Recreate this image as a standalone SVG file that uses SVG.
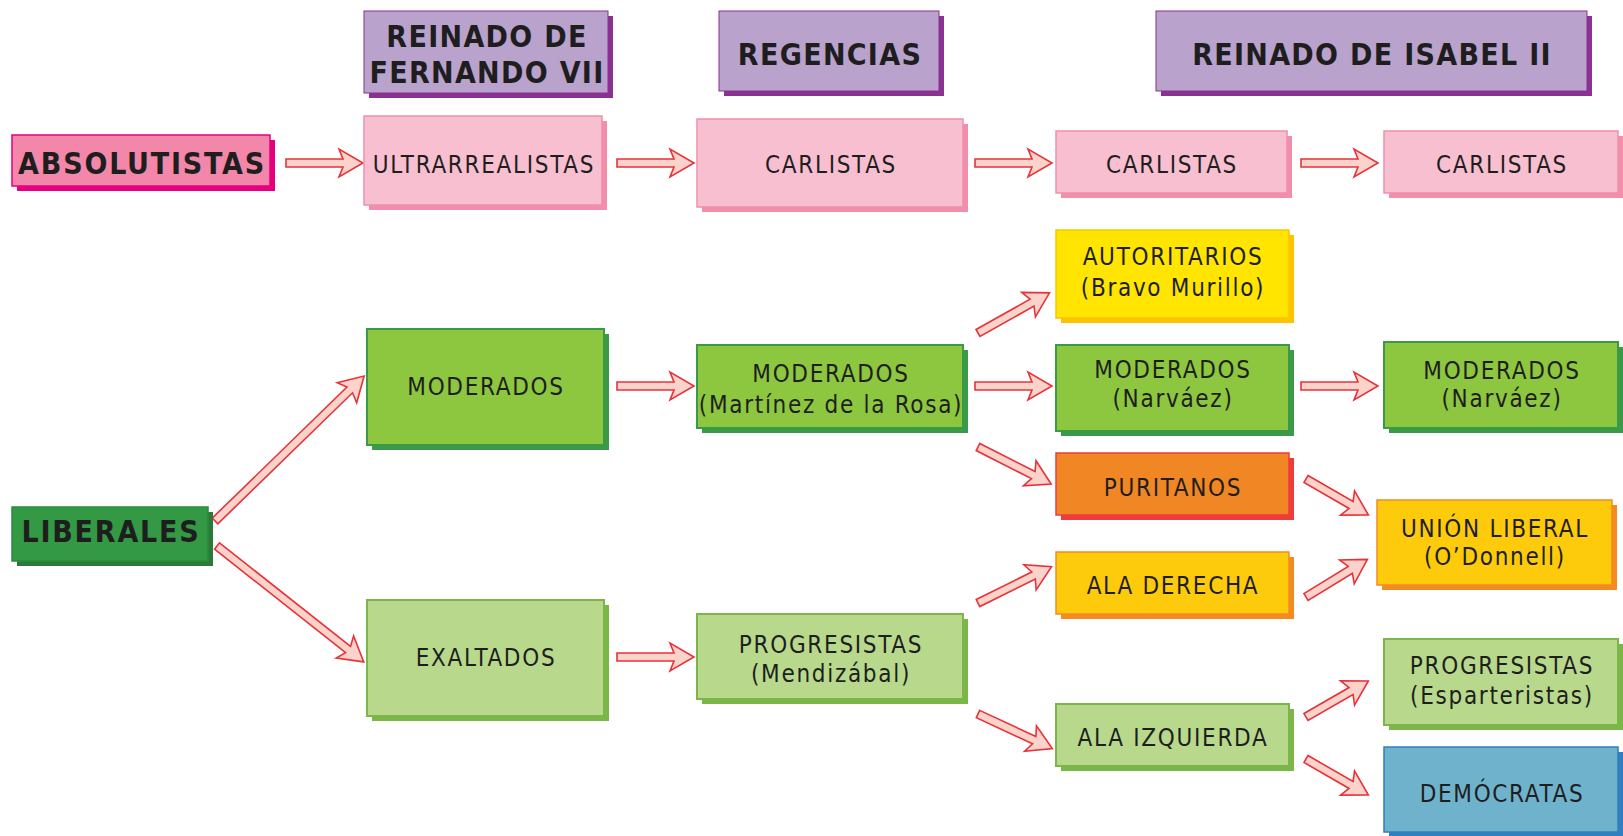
<svg xmlns="http://www.w3.org/2000/svg" xmlns:xlink="http://www.w3.org/1999/xlink" width="1623" height="836" viewBox="0 0 1623 836">
<style>
text{font-family:"DejaVu Sans Condensed","DejaVu Sans","Liberation Sans Narrow",sans-serif;font-stretch:condensed;fill:#1e1e1e;text-anchor:middle;font-size:24px;letter-spacing:1.7px}
.b{font-weight:bold;font-size:30px;letter-spacing:1.8px}
.hd{font-weight:bold;font-size:30px;letter-spacing:1.3px}
.arr{fill:#fcd3ca;stroke:#e8323a;stroke-width:1.6;stroke-linejoin:miter}
.purp .f{fill:#b9a2cc;stroke:#8a3191;stroke-width:1}
.purp .s{fill:#8a3191}
.pk .f{fill:#f8bfd0;stroke:#f18eac;stroke-width:1.5}
.pk .s{fill:#f18eac}
.pkd .f{fill:#f287aa;stroke:#e6007e;stroke-width:1.5}
.pkd .s{fill:#e6007e}
.gd .f{fill:#339944;stroke:#2b8a3e;stroke-width:1.5}
.gd .s{fill:#2c7a3a}
.gm .f{fill:#8dc63f;stroke:#3a9a48;stroke-width:2}
.gm .s{fill:#3a9a48}
.gl .f{fill:#b8d98c;stroke:#7ab648;stroke-width:2}
.gl .s{fill:#7ab648}
.yl .f{fill:#ffe500;stroke:#fdc300;stroke-width:1.5}
.yl .s{fill:#fdc300}
.or .f{fill:#f08624;stroke:#ee3b3b;stroke-width:1.5}
.or .s{fill:#ee3b3b}
.am .f{fill:#fdcb0b;stroke:#f48a21;stroke-width:1.5}
.am .s{fill:#f48a21}
.bl .f{fill:#6fb2cc;stroke:#2f7fc1;stroke-width:1.5}
.bl .s{fill:#2f7fc1}
</style>
<defs>
<path id="a77" class="arr" d="M0,-4 H57 L53,-14 L77,0 L53,14 L57,4 H0 Z"/>
<path id="a82" class="arr" d="M0,-4 H62 L58,-14 L82,0 L58,14 L62,4 H0 Z"/>
<path id="a72" class="arr" d="M0,-4 H52 L48,-14 L72,0 L48,14 L52,4 H0 Z"/>
<path id="a208" class="arr" d="M0,-4 H188 L184,-14 L208,0 L184,14 L188,4 H0 Z"/>
<path id="a187" class="arr" d="M0,-4 H167 L163,-14 L187,0 L163,14 L167,4 H0 Z"/>
</defs>

<g id="connectors">
<use xlink:href="#a77" transform="translate(286,163)"/>
<use xlink:href="#a77" transform="translate(617,163)"/>
<use xlink:href="#a77" transform="translate(975,163)"/>
<use xlink:href="#a77" transform="translate(1301,163)"/>
<use xlink:href="#a77" transform="translate(617,386)"/>
<use xlink:href="#a77" transform="translate(617,657)"/>
<use xlink:href="#a77" transform="translate(975,386)"/>
<use xlink:href="#a77" transform="translate(1301,386)"/>
<use xlink:href="#a208" transform="translate(215,521) rotate(-44.2)"/>
<use xlink:href="#a187" transform="translate(217,546) rotate(38.3)"/>
<use xlink:href="#a82" transform="translate(978,333) rotate(-29.3)"/>
<use xlink:href="#a82" transform="translate(978,447) rotate(26.9)"/>
<use xlink:href="#a82" transform="translate(978,603) rotate(-26.3)"/>
<use xlink:href="#a82" transform="translate(978,714) rotate(25)"/>
<use xlink:href="#a72" transform="translate(1306,479) rotate(30)"/>
<use xlink:href="#a72" transform="translate(1306,597) rotate(-31.5)"/>
<use xlink:href="#a72" transform="translate(1306,717) rotate(-30)"/>
<use xlink:href="#a72" transform="translate(1306,759) rotate(30)"/>
</g>

<g id="hdr-fernando" class="purp">
<rect class="s" x="369" y="16" width="244" height="82"/>
<rect class="f" x="364" y="11" width="244" height="82"/>
<text class="hd" x="487" y="47">REINADO DE</text>
<text class="hd" x="487" y="83">FERNANDO VII</text>
</g>
<g id="hdr-regencias" class="purp">
<rect class="s" x="724" y="16" width="220" height="80"/>
<rect class="f" x="719" y="11" width="220" height="80"/>
<text class="hd" x="830" y="65">REGENCIAS</text>
</g>
<g id="hdr-isabel" class="purp">
<rect class="s" x="1161" y="16" width="431" height="80"/>
<rect class="f" x="1156" y="11" width="431" height="80"/>
<text class="hd" x="1372" y="65">REINADO DE ISABEL II</text>
</g>

<g id="absolutistas" class="pkd">
<rect class="s" x="17" y="140" width="258" height="51"/>
<rect class="f" x="12" y="135" width="258" height="51"/>
<text class="b" x="142" y="174">ABSOLUTISTAS</text>
</g>
<g id="ultrarrealistas" class="pk">
<rect class="s" x="369" y="121" width="238" height="89"/>
<rect class="f" x="364" y="116" width="238" height="89"/>
<text x="484" y="173">ULTRARREALISTAS</text>
</g>
<g id="carlistas-reg" class="pk">
<rect class="s" x="702" y="124" width="266" height="88"/>
<rect class="f" x="697" y="119" width="266" height="88"/>
<text x="831" y="173">CARLISTAS</text>
</g>
<g id="carlistas-1" class="pk">
<rect class="s" x="1061" y="136" width="231" height="62"/>
<rect class="f" x="1056" y="131" width="231" height="62"/>
<text x="1172" y="173">CARLISTAS</text>
</g>
<g id="carlistas-2" class="pk">
<rect class="s" x="1389" y="136" width="234" height="62"/>
<rect class="f" x="1384" y="131" width="234" height="62"/>
<text x="1502" y="173">CARLISTAS</text>
</g>

<g id="liberales" class="gd">
<rect class="s" x="17" y="512" width="196" height="54"/>
<rect class="f" x="12" y="507" width="196" height="54"/>
<text class="b" x="111" y="542">LIBERALES</text>
</g>
<g id="moderados" class="gm">
<rect class="s" x="372" y="334" width="237" height="116"/>
<rect class="f" x="367" y="329" width="237" height="116"/>
<text x="486" y="395">MODERADOS</text>
</g>
<g id="exaltados" class="gl">
<rect class="s" x="372" y="605" width="237" height="116"/>
<rect class="f" x="367" y="600" width="237" height="116"/>
<text x="486" y="666">EXALTADOS</text>
</g>
<g id="moderados-mdlr" class="gm">
<rect class="s" x="702" y="350" width="266" height="83"/>
<rect class="f" x="697" y="345" width="266" height="83"/>
<text x="831" y="382">MODERADOS</text>
<text x="831" y="413">(Martínez de la Rosa)</text>
</g>
<g id="progresistas-mendizabal" class="gl">
<rect class="s" x="702" y="619" width="266" height="85"/>
<rect class="f" x="697" y="614" width="266" height="85"/>
<text x="831" y="653">PROGRESISTAS</text>
<text x="831" y="682">(Mendizábal)</text>
</g>
<g id="autoritarios" class="yl">
<rect class="s" x="1061" y="235" width="233" height="88"/>
<rect class="f" x="1056" y="230" width="233" height="88"/>
<text x="1173" y="265">AUTORITARIOS</text>
<text x="1173" y="296">(Bravo Murillo)</text>
</g>
<g id="moderados-narvaez-1" class="gm">
<rect class="s" x="1061" y="350" width="233" height="86"/>
<rect class="f" x="1056" y="345" width="233" height="86"/>
<text x="1173" y="378">MODERADOS</text>
<text x="1173" y="407">(Narváez)</text>
</g>
<g id="puritanos" class="or">
<rect class="s" x="1061" y="458" width="233" height="62"/>
<rect class="f" x="1056" y="453" width="233" height="62"/>
<text x="1173" y="496">PURITANOS</text>
</g>
<g id="ala-derecha" class="am">
<rect class="s" x="1061" y="557" width="233" height="62"/>
<rect class="f" x="1056" y="552" width="233" height="62"/>
<text x="1173" y="594">ALA DERECHA</text>
</g>
<g id="ala-izquierda" class="gl">
<rect class="s" x="1061" y="709" width="233" height="62"/>
<rect class="f" x="1056" y="704" width="233" height="62"/>
<text x="1173" y="746">ALA IZQUIERDA</text>
</g>
<g id="moderados-narvaez-2" class="gm">
<rect class="s" x="1389" y="347" width="234" height="86"/>
<rect class="f" x="1384" y="342" width="234" height="86"/>
<text x="1502" y="379">MODERADOS</text>
<text x="1502" y="407">(Narváez)</text>
</g>
<g id="union-liberal" class="am">
<rect class="s" x="1382" y="505" width="235" height="85"/>
<rect class="f" x="1377" y="500" width="235" height="85"/>
<text x="1495" y="537">UNIÓN LIBERAL</text>
<text x="1495" y="565">(O’Donnell)</text>
</g>
<g id="progresistas-esparteristas" class="gl">
<rect class="s" x="1389" y="644" width="234" height="86"/>
<rect class="f" x="1384" y="639" width="234" height="86"/>
<text x="1502" y="674">PROGRESISTAS</text>
<text x="1502" y="704">(Esparteristas)</text>
</g>
<g id="democratas" class="bl">
<rect class="s" x="1389" y="752" width="234" height="85"/>
<rect class="f" x="1384" y="747" width="234" height="85"/>
<text x="1502" y="802">DEMÓCRATAS</text>
</g>
</svg>
